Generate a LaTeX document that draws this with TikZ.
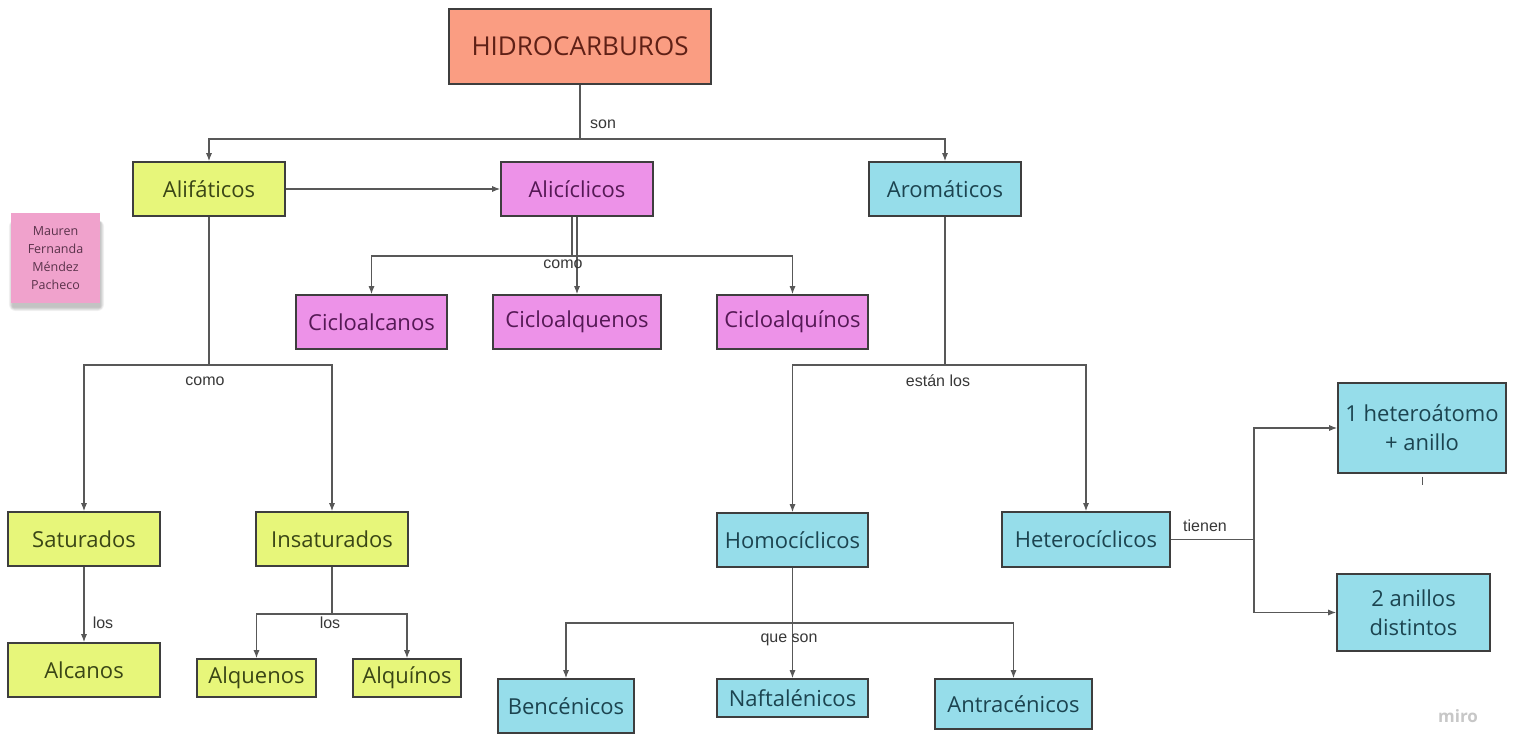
\documentclass[tikz,border=0pt]{standalone}
\usepackage{fontspec}
\setmainfont{Open Sans}
\newfontfamily\lblfont{Liberation Sans}
\usetikzlibrary{arrows.meta,shadows,positioning}
\definecolor{salmon}{RGB}{250,157,130}
\definecolor{lima}{RGB}{231,246,122}
\definecolor{lila}{RGB}{237,146,232}
\definecolor{celeste}{RGB}{150,221,234}
\definecolor{rosa}{RGB}{240,162,204}
\definecolor{borde}{RGB}{62,62,62}
\definecolor{linea}{RGB}{88,88,88}

\begin{document}
\begin{tikzpicture}[x=1pt,y=-1pt,
	caja/.style={draw=borde,line width=1.6pt,inner sep=0pt,align=center,font=\fontsize{22}{29}\selectfont},
	ali/.style={caja,fill=lima,text={rgb,255:red,58;green,70;blue,22}},
	cic/.style={caja,fill=lila,text={rgb,255:red,85;green,25;blue,85}},
	aro/.style={caja,fill=celeste,text={rgb,255:red,28;green,68;blue,80}},
	lin/.style={draw=linea,line width=1.1pt},
	arr/.style={lin,-{Latex[length=8pt,width=6pt]}},
	etq/.style={font=\lblfont\fontsize{16}{18}\selectfont,text=black!78}]
	\useasboundingbox (0,0) rectangle (1520,738);
	\fill[white] (0,0) rectangle (1520,738);

	\node[caja,fill=salmon,text={rgb,255:red,95;green,32;blue,22},minimum width=262,minimum height=75,font=\fontsize{26}{30}\selectfont] (hidro) at (580,46.5) {HIDROCARBUROS};
	\node[ali,minimum width=152,minimum height=54] (alif) at (209,189) {Alifáticos};
	\node[cic,minimum width=152,minimum height=54] (alic) at (577,189) {Alicíclicos};
	\node[aro,minimum width=152,minimum height=54] (arom) at (945,189) {Aromáticos};

	\node[cic,minimum width=151,minimum height=54] (calc) at (371.5,322) {Cicloalcanos};
	\node[cic,minimum width=168,minimum height=54] (calq) at (577,322) {Cicloalquenos};
	\node[cic,minimum width=151,minimum height=54] (calqi) at (792.5,322) {Cicloalquínos};

	\node[ali,minimum width=152,minimum height=54] (satu) at (84,539) {Saturados};
	\node[ali,minimum width=152,minimum height=54] (insa) at (332,539) {Insaturados};
	\node[ali,minimum width=152,minimum height=54] (alca) at (84,670) {Alcanos};
	\node[ali,minimum width=119,minimum height=38] (alqe) at (256.5,678) {Alquenos};
	\node[ali,minimum width=108,minimum height=38] (alqi) at (407,678) {Alquínos};

	\node[aro,minimum width=151,minimum height=54] (homo) at (792.5,540) {Homocíclicos};
	\node[aro,minimum width=168,minimum height=55] (hete) at (1086,539.5) {Heterocíclicos};
	\node[aro,minimum width=136,minimum height=54] (benc) at (566,706) {Bencénicos};
	\node[aro,minimum width=151,minimum height=38] (nafta) at (792.5,698) {Naftalénicos};
	\node[aro,minimum width=157,minimum height=50] (antra) at (1013.5,704) {Antracénicos};
	\node[aro,minimum width=168,minimum height=90] (het1) at (1422,428) {1 heteroátomo\\+ anillo};
	\node[aro,minimum width=153,minimum height=77] (het2) at (1413.5,612.5) {2 anillos\\distintos};

	% nota adhesiva con sombra difusa
	\foreach \s in {1,2,...,7}
		\fill[black,opacity=0.035,rounded corners=\s] (13-\s*0.6,222-\s*0.3) rectangle (100+\s*0.6,307+\s*0.6);
	\node[fill=rosa,minimum width=89,minimum height=90,inner sep=0pt,align=center,
		text={rgb,255:red,90;green,50;blue,75},font=\fontsize{12.5}{18}\selectfont] (nota) at (55.5,258) {Mauren\\Fernanda\\Méndez\\Pacheco};
	\node[text=black!22,font=\fontsize{17}{17}\selectfont\bfseries] (miro) at (1458,716) {miro};

	% conectores
	\coordinate (j0) at (580,139);
	\draw[lin] (hidro) -- (j0);
	\draw[arr] (j0) -| (alif);
	\draw[arr] (j0) -| (arom);
	\draw[arr] (alif) -- (alic);

	\coordinate (j1) at (572,256);
	\draw[lin] (alic.south -| j1) -- (j1);
	\draw[arr] (j1) -| (calc);
	\draw[arr] (j1) -| (calqi);
	\draw[arr] (alic) -- (calq);

	\coordinate (j2) at (209,365);
	\draw[lin] (alif) -- (j2);
	\draw[arr] (j2) -| (satu);
	\draw[arr] (j2) -| (insa);
	\draw[arr] (satu) -- (alca);
	\coordinate (j3) at (332,614);
	\draw[lin] (insa) -- (j3);
	\draw[arr] (j3) -| (alqe);
	\draw[arr] (j3) -| (alqi);

	\coordinate (j4) at (945,365);
	\draw[lin] (arom) -- (j4);
	\draw[arr] (j4) -| (homo);
	\draw[arr] (j4) -| (hete);
	\draw[arr] (homo) -- (nafta);
	\coordinate (j5) at (792.5,623);
	\draw[arr] (j5) -| (benc);
	\draw[arr] (j5) -| (antra);

	\coordinate (j6) at (1254,539.5);
	\draw[lin] (hete) -- (j6);
	\draw[arr] (j6) |- (het1);
	\draw[arr] (j6) |- (het2);
	\coordinate (t1) at (1422,485);
	\draw[lin,line width=0.8pt] (het1.south) ++(0,3) -- (t1);

	% etiquetas
	\node[etq] (l0) at (603,124) {son};
	\node[etq] (l1) at (563,264) {como};
	\node[etq] (l2) at (205,381) {como};
	\node[etq] (l3) at (103,623) {los};
	\node[etq] (l4) at (330,623) {los};
	\node[etq] (l5) at (938,381) {están los};
	\node[etq] (l6) at (789,640) {que son};
	\node[etq] (l7) at (1205,526) {tienen};
\end{tikzpicture}
\end{document}
